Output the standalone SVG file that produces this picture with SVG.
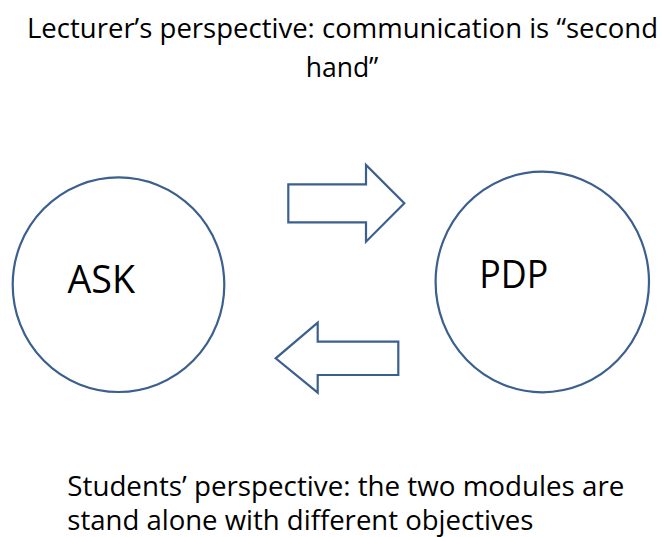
<svg xmlns="http://www.w3.org/2000/svg" width="662" height="537" viewBox="0 0 662 537">
  <style>
    .shape { fill: #FFFFFF; stroke: #3B5F8E; stroke-width: 2.2; }
    .txt { font-family: "Open Sans", "Liberation Sans", sans-serif; fill: #000000; font-variant-ligatures: none; }
    .cap { font-size: 26.5px; }
    .lbl { font-size: 37.5px; }
  </style>
  <rect width="662" height="537" fill="#FFFFFF"/>
  <g id="title">
    <text class="txt cap" x="27" y="37.5" textLength="631" lengthAdjust="spacingAndGlyphs">Lecturer’s perspective: communication is “second</text>
    <text class="txt cap" x="342" y="77" text-anchor="middle">hand”</text>
  </g>
  <g id="connectors">
    <polygon class="shape" points="288.3,184.3 366,184.3 366,165 404.3,203.3 366,241.7 366,222.3 288.3,222.3"/>
    <polygon class="shape" points="398.3,341.7 317.7,341.7 317.7,322.7 275.7,358.3 317.7,392.7 317.7,375 398.3,375"/>
  </g>
  <g id="node-ask">
    <ellipse class="shape" cx="118.5" cy="284.7" rx="105.8" ry="107.3"/>
    <text class="txt lbl" x="67.5" y="293.3" textLength="67.5" lengthAdjust="spacingAndGlyphs">ASK</text>
  </g>
  <g id="node-pdp">
    <ellipse class="shape" cx="542.3" cy="282" rx="106.7" ry="110.3"/>
    <text class="txt lbl" x="479.3" y="287.7" textLength="69" lengthAdjust="spacingAndGlyphs">PDP</text>
  </g>
  <g id="footer">
    <text class="txt cap" x="67.3" y="496" textLength="557" lengthAdjust="spacingAndGlyphs">Students’ perspective: the two modules are</text>
    <text class="txt cap" x="67.3" y="530" textLength="466" lengthAdjust="spacingAndGlyphs">stand alone with different objectives</text>
  </g>
</svg>
